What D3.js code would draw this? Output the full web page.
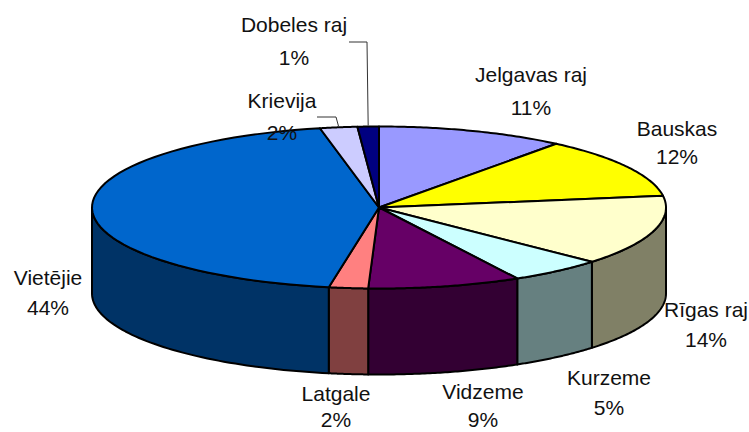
<!DOCTYPE html>
<html>
<head>
<meta charset="utf-8">
<script src="https://cdn.jsdelivr.net/npm/d3@7"></script>
<style>
  html, body { margin: 0; padding: 0; background: #fff; }
  text { font-family: "Liberation Sans", Arial, sans-serif; font-size: 21px; fill: #111; }
</style>
</head>
<body>
<div id="chart"></div>
<script>
// Slices go clockwise from 12 o'clock
var regions = ["Jelgavas raj", "Bauskas", "Rīgas raj", "Kurzeme", "Vidzeme", "Latgale", "Vietējie", "Krievija", "Dobeles raj"];
var shares = [10.6, 12.1, 14.0, 5.3, 8.6, 2.2, 43.9, 2.1, 1.2];
var topColors = ["#9999ff", "#ffff00", "#ffffcc", "#ccffff", "#660066", "#ff8080", "#0066cc", "#ccccff", "#000080"];

// Label anchors, same order as regions: [x, name baseline, percent baseline]
var labelSpots = [
  [531, 82, 115], [677, 136, 164], [706, 317, 347],
  [609, 385, 415], [483, 399, 427], [336, 401, 427],
  [48, 285, 315], [282, 108, 140], [294, 32, 65]
];

var svgWidth = 749;
var svgHeight = 432;

// Tilted pie: ellipse for the top face plus a wall below it
var cx = 379, cy = 207.5, rx = 287, ry = 81, depth = 86;

var svg = d3.select("#chart").append("svg")
  .attr("width", svgWidth)
  .attr("height", svgHeight)
  .style("display", "block");

var slices = d3.pie().sort(null)(shares);

var px = a => cx + rx * Math.sin(a);
var py = a => cy - ry * Math.cos(a);
var line = d3.line();

function rimPoints(a0, a1, dy) {
  return d3.range(0, 61).map(i => {
    var a = a0 + (a1 - a0) * i / 60;
    return [px(a), py(a) + dy];
  });
}

// Only the front half of the pie shows a wall
var wallGroup = svg.append("g");
slices.forEach(function(s, i) {
  var a0 = Math.max(s.startAngle, Math.PI / 2);
  var a1 = Math.min(s.endAngle, Math.PI * 1.5);
  if (a1 <= a0) return;
  var c = d3.rgb(topColors[i]);
  var wallColor = d3.rgb(c.r * 0.5, c.g * 0.5, c.b * 0.5);
  var pts = rimPoints(a0, a1, 0).concat(rimPoints(a1, a0, depth));
  wallGroup.append("path")
    .attr("d", line(pts) + "Z")
    .attr("fill", wallColor)
    .attr("stroke", "#000")
    .attr("stroke-width", 2)
    .attr("stroke-linejoin", "round");
});

var topGroup = svg.append("g");
slices.forEach(function(s, i) {
  var pts = [[cx, cy]].concat(rimPoints(s.startAngle, s.endAngle, 0));
  topGroup.append("path")
    .attr("d", line(pts) + "Z")
    .attr("fill", topColors[i])
    .attr("stroke", "#000")
    .attr("stroke-width", 2)
    .attr("stroke-linejoin", "round");
});

// Leader lines for the two small slices
function leader(i, fromX, fromY, elbowX) {
  var mid = (slices[i].startAngle + slices[i].endAngle) / 2;
  svg.append("path")
    .attr("d", line([[fromX, fromY], [elbowX, fromY], [px(mid), py(mid) - 1]]))
    .attr("fill", "none")
    .attr("stroke", "#333")
    .attr("stroke-width", 1);
}
leader(7, 317, 117, 336);
leader(8, 349, 42, 367);

var fmt = d3.format(".0f");
regions.forEach(function(name, i) {
  var spot = labelSpots[i];
  var label = svg.append("g").attr("text-anchor", "middle");
  label.append("text").attr("x", spot[0]).attr("y", spot[1]).text(name);
  label.append("text").attr("x", spot[0]).attr("y", spot[2]).text(fmt(shares[i]) + "%");
});
</script>
</body>
</html>
